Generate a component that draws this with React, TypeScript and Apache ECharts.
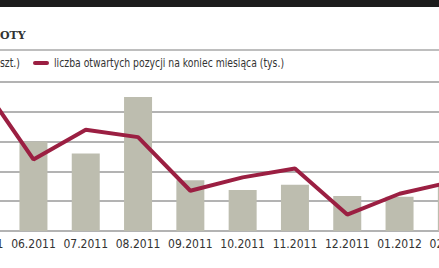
import React, { useEffect, useRef } from "react";
import * as echarts from "echarts";

const categories = ["05.2011", "06.2011", "07.2011", "08.2011", "09.2011", "10.2011", "11.2011", "12.2011", "01.2012", "02.2012"];
const barValues = [null, 60, 52, 90, 34, 27.5, 31, 23.5, 23, 30];
const lineValues = [99, 48, 68, 63, 27, 36, 42, 11, 25, 33];
const lineName = "liczba otwartych pozycji na koniec miesiąca (tys.)";
const barLegendTail = "szt.)";
const titleTail = "OTY";

const COND = '"DejaVu Sans Condensed", "DejaVu Sans", sans-serif';
const OFF = 45; // chart canvas starts 45px left of the visible frame
const CW = 523;

export default function App() {
  const ref = useRef<HTMLDivElement>(null);
  useEffect(() => {
    if (!ref.current) return;
    const chart = echarts.init(ref.current, null, { renderer: "svg" });
    chart.setOption({
      animation: false,
      backgroundColor: "#ffffff",
      grid: { left: 0, right: 0, top: 82, bottom: 37, containLabel: false },
      xAxis: {
        type: "category",
        data: categories,
        boundaryGap: true,
        axisLine: { show: false },
        axisTick: { show: false },
        axisLabel: { color: "#333", fontSize: 12, fontFamily: COND, margin: 7, interval: 0 },
      },
      yAxis: {
        type: "value",
        min: 0,
        max: 100,
        interval: 20,
        axisLabel: { show: false },
        axisLine: { show: false },
        axisTick: { show: false },
        splitLine: { lineStyle: { color: "#9a9a9a", width: 1.6 } },
      },
      series: [
        {
          name: "bars",
          type: "bar",
          data: barValues,
          barWidth: 28,
          itemStyle: { color: "#bdbdaf" },
          z: 2,
        },
        {
          name: lineName,
          type: "line",
          data: lineValues,
          symbol: "none",
          lineStyle: { color: "#9b1f42", width: 4 },
          itemStyle: { color: "#9b1f42" },
          z: 3,
        },
      ],
      graphic: [
        { type: "rect", shape: { x: 0, y: 0, width: CW, height: 7 }, style: { fill: "#1c1c1c" } },
        { type: "line", shape: { x1: 0, y1: 50, x2: CW, y2: 50 }, style: { stroke: "#a8a8a8", lineWidth: 1.5 } },
        {
          type: "text",
          x: OFF,
          y: 35,
          style: { text: titleTail, fill: "#333", font: '600 11px "DejaVu Serif", serif', verticalAlign: "middle" },
        },
        {
          type: "text",
          x: OFF,
          y: 63,
          scaleX: 0.86,
          style: { text: barLegendTail, fill: "#333", font: "12px " + COND, verticalAlign: "middle" },
        },
        {
          type: "rect",
          shape: { x: OFF + 33, y: 61, width: 16, height: 4, r: 2 },
          style: { fill: "#9b1f42" },
        },
        {
          type: "text",
          x: OFF + 54,
          y: 63,
          scaleX: 0.86,
          style: { text: lineName, fill: "#333", font: "12px " + COND, verticalAlign: "middle" },
        },
      ],
    });
    return () => chart.dispose();
  }, []);
  return (
    <div style={{ position: "absolute", left: 0, top: 0, width: 439, height: 268, overflow: "hidden" }}>
      <div ref={ref} style={{ position: "absolute", left: -OFF, top: 0, width: CW, height: 268 }} />
    </div>
  );
}
